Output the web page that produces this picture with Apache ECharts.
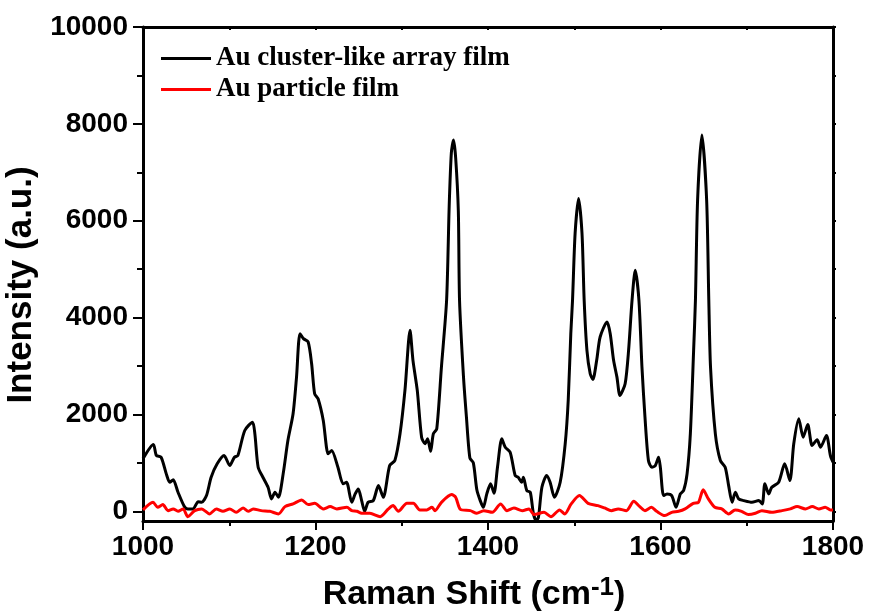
<!DOCTYPE html>
<html>
<head>
<meta charset="utf-8">
<script src="https://cdn.jsdelivr.net/npm/echarts@6/dist/echarts.min.js"></script>
<style>
  html, body { margin: 0; padding: 0; background: #fff; }
  #chart { width: 871px; height: 612px; }
</style>
</head>
<body>
<div id="chart"></div>
<script>
// Au cluster-like array film (black)
var clusterShift = [1000, 1012, 1015.5, 1021, 1027, 1031, 1035, 1040.6, 1048, 1052, 1058, 1064, 1068, 1073.6, 1079, 1086, 1094, 1100.6, 1106, 1110, 1118, 1127, 1129.7, 1133.5, 1139, 1145, 1149, 1153, 1157, 1162.5, 1168, 1174, 1178, 1182, 1186, 1191.5, 1195.5, 1199, 1203, 1209, 1214.7, 1218.7, 1226, 1232, 1236, 1242, 1246, 1249.6, 1253.5, 1257, 1261, 1267, 1273, 1278.6, 1286, 1292, 1298, 1303.7, 1309.6, 1313, 1318, 1323, 1327, 1330, 1333.5, 1336.6, 1340.6, 1346, 1352, 1355, 1357.5, 1360, 1362.5, 1365.6, 1367, 1371.5, 1375, 1379, 1383, 1387, 1391, 1394.6, 1398.6, 1403, 1407, 1411, 1416, 1420, 1425.7, 1431.5, 1435, 1439, 1441, 1445, 1449, 1452.7, 1456, 1458.5, 1462.5, 1468, 1472, 1477, 1483.7, 1489.5, 1493, 1496, 1498, 1501, 1505, 1509, 1511.5, 1514.7, 1518.5, 1521.6, 1526, 1530, 1538, 1541.7, 1545.6, 1549.5, 1553, 1559, 1563, 1567, 1570.7, 1575, 1578.5, 1582, 1586, 1590, 1594, 1597.8, 1599.8, 1603.6, 1607.5, 1613, 1618, 1623, 1626.8, 1630.8, 1634.6, 1638.4, 1640.5, 1643, 1648, 1653.5, 1656, 1658, 1663.6, 1669.4, 1675, 1679, 1683, 1686.8, 1690.6, 1696.5, 1706, 1714, 1718, 1721, 1725.5, 1729, 1737, 1744, 1750, 1754.5, 1760.3, 1765.4, 1770.7, 1775.8, 1781.6, 1785.5, 1792.4, 1797, 1800];
var clusterIntensity = [1084, 1379, 1152, 1117, 773, 600, 650, 393, 97, 50, 50, 200, 186, 325, 703, 980, 1152, 945, 1117, 1152, 1669, 1841, 1600, 910, 703, 496, 256, 393, 290, 773, 1462, 2014, 2771, 3668, 3565, 3495, 3048, 2428, 2324, 1876, 1187, 1255, 910, 567, 600, 186, 360, 463, 221, 0, 186, 221, 531, 290, 945, 1049, 1600, 2496, 3737, 3117, 2496, 1530, 1394, 1497, 1241, 1600, 1704, 2978, 4357, 6300, 7400, 7666, 7300, 6200, 4357, 2800, 1944, 1100, 1000, 450, 221, 83, 360, 567, 372, 910, 1497, 1324, 1220, 738, 703, 600, 703, 428, 393, -54, -190, -124, 496, 738, 600, 290, 600, 1394, 2289, 3668, 4357, 5737, 6460, 5737, 4357, 3323, 2841, 2724, 3117, 3599, 3909, 3668, 3117, 2771, 2393, 2635, 3323, 4357, 4978, 4357, 2978, 1944, 1049, 910, 945, 1117, 910, 325, 360, 325, 83, 360, 428, 773, 1600, 3323, 4357, 6424, 7770, 6424, 4357, 2978, 1600, 1049, 910, 531, 186, 393, 256, 221, 186, 221, 153, 567, 360, 496, 600, 980, 635, 1394, 1911, 1530, 1793, 1359, 1476, 1324, 1566, 1152, 1013];

// Au particle film (red)
var particleShift = [1000, 1011.6, 1017, 1023, 1029, 1035, 1040.6, 1046.5, 1052, 1060, 1068, 1077, 1085, 1092.7, 1100.6, 1108, 1116, 1122, 1127.7, 1137, 1147, 1157, 1164.6, 1174, 1184, 1191.5, 1199, 1209, 1217, 1224.7, 1236.4, 1242, 1248, 1253.5, 1263, 1275, 1284.5, 1290, 1296, 1306, 1313.5, 1321, 1329, 1335, 1338.6, 1346, 1357.8, 1362.5, 1368, 1379.5, 1387, 1395, 1405, 1414.6, 1422, 1430, 1439.8, 1447.5, 1453.5, 1465, 1473, 1483, 1489, 1496.5, 1506, 1516, 1527.5, 1535, 1543, 1551, 1560.5, 1569, 1576, 1582, 1589.5, 1595.5, 1605, 1613, 1621, 1628.5, 1638, 1644, 1649.5, 1655.5, 1663, 1671, 1679, 1686.5, 1694, 1702, 1710, 1717.5, 1729, 1741, 1750.6, 1758.4, 1768, 1776, 1783.6, 1791, 1797, 1800];
var particleIntensity = [29, 186, 83, 139, 14, 50, 0, 50, -110, 14, 50, -54, 50, 0, 50, -21, 70, 0, 50, 14, 0, -54, 97, 153, 236, 139, 165, 50, 97, 50, 83, 14, 0, -41, -41, -110, 50, 118, 0, 165, 165, 29, 29, 83, 14, 186, 345, 290, 40, 14, -41, 14, -21, 153, 14, 70, 14, 50, -68, -21, -110, 29, -54, 153, 325, 165, 118, 70, 14, 50, 14, 207, 97, 14, 83, 0, -89, -21, 0, 50, 165, 186, 443, 256, 83, 50, -54, 29, 0, -68, -41, 14, -21, 14, 50, 97, 50, 97, 50, 83, 29, 29];

var yMajorTicks = [0, 2000, 4000, 6000, 8000, 10000];
var yMinorTicks = [1000, 3000, 5000, 7000, 9000];
var yAllTicks = [0, 1000, 2000, 3000, 4000, 5000, 6000, 7000, 8000, 9000, 10000];

function pairs(xs, ys) {
  return xs.map(function (x, i) { return [x, ys[i]]; });
}

var myChart = echarts.init(document.getElementById('chart'));
var axisFont = 'Liberation Sans, Arial, sans-serif';

myChart.setOption({
  animation: false,
  backgroundColor: '#fff',
  grid: {
    left: 143, //与左边的距离
    right: 38,
    top: 27,
    bottom: 91,
    containLabel: false,
    outerBoundsMode: 'none'
  },
  legend: {
    orient: 'vertical',
    left: 156,
    top: 40,
    icon: 'rect',
    itemWidth: 50,
    itemHeight: 3,
    itemGap: 4,
    textStyle: {
      fontFamily: 'Liberation Serif, Times New Roman, serif',
      fontWeight: 'bold',
      fontSize: 27,
      color: '#000'
    },
    data: ['Au cluster-like array film', 'Au particle film']
  },
  xAxis: [
    {
      type: 'value',
      min: 1000,
      max: 1800,
      interval: 200,
      position: 'bottom',
      name: 'Raman Shift (cm{sup|-1})',
      nameLocation: 'middle',
      nameGap: 54,
      nameTextStyle: {
        fontFamily: axisFont,
        fontWeight: 'bold',
        fontSize: 34,
        color: '#000',
        padding: [0, 28, 0, 0],
        rich: {
          sup: {
            fontFamily: axisFont,
            fontWeight: 'bold',
            fontSize: 26,
            color: '#000',
            verticalAlign: 'top',
            padding: [0, 0, 14, 0]
          }
        }
      },
      axisLine: { onZero: false, lineStyle: { color: '#000', width: 3 } },
      axisTick: { length: 9, lineStyle: { color: '#000', width: 2 } },
      minorTick: { show: true, splitNumber: 2, length: 5, lineStyle: { color: '#000', width: 2 } },
      axisLabel: {
        margin: 12,
        color: '#000',
        fontFamily: axisFont,
        fontWeight: 'bold',
        fontSize: 28,
        formatter: function (v) { return String(v); }
      },
      splitLine: { show: false }
    },
    {
      type: 'value',
      min: 1000,
      max: 1800,
      interval: 100,
      position: 'top',
      axisLine: { onZero: false, lineStyle: { color: '#000', width: 3 } },
      axisTick: { inside: true, length: 3, lineStyle: { color: '#000', width: 2 } },
      axisLabel: { show: false },
      splitLine: { show: false }
    }
  ],
  yAxis: [
    {
      type: 'value',
      min: -200,
      max: 10000,
      position: 'left',
      name: 'Intensity (a.u.)',
      nameLocation: 'middle',
      nameRotate: 90,
      nameGap: 88,
      nameTextStyle: {
        fontFamily: axisFont,
        fontWeight: 'bold',
        fontSize: 35,
        color: '#000',
        padding: [0, 22, 0, 0]
      },
      axisLine: { onZero: false, lineStyle: { color: '#000', width: 3 } },
      axisTick: { length: 10, customValues: yMajorTicks, lineStyle: { color: '#000', width: 2 } },
      axisLabel: {
        margin: 15,
        customValues: yMajorTicks,
        color: '#000',
        fontFamily: axisFont,
        fontWeight: 'bold',
        fontSize: 28,
        formatter: function (v) { return String(v); }
      },
      splitLine: { show: false }
    },
    {
      type: 'value',
      min: -200,
      max: 10000,
      position: 'left',
      axisLine: { show: false },
      axisTick: { length: 6, customValues: yMinorTicks, lineStyle: { color: '#000', width: 2 } },
      axisLabel: { show: false },
      splitLine: { show: false }
    },
    {
      type: 'value',
      min: -200,
      max: 10000,
      position: 'right',
      axisLine: { show: true, onZero: false, lineStyle: { color: '#000', width: 3 } },
      axisTick: { length: 3, customValues: yAllTicks, lineStyle: { color: '#000', width: 2 } },
      axisLabel: { show: false },
      splitLine: { show: false }
    }
  ],
  series: [
    {
      name: 'Au cluster-like array film',
      type: 'line',
      xAxisIndex: 0,
      yAxisIndex: 0,
      smooth: 0.25,
      symbol: 'none',
      clip: true,
      itemStyle: { color: '#000' },
      lineStyle: { color: '#000', width: 3 },
      data: pairs(clusterShift, clusterIntensity)
    },
    {
      name: 'Au particle film',
      type: 'line',
      xAxisIndex: 0,
      yAxisIndex: 0,
      smooth: 0.25,
      symbol: 'none',
      clip: true,
      itemStyle: { color: '#ff0000' },
      lineStyle: { color: '#ff0000', width: 3 },
      data: pairs(particleShift, particleIntensity)
    }
  ]
});
</script>
</body>
</html>
